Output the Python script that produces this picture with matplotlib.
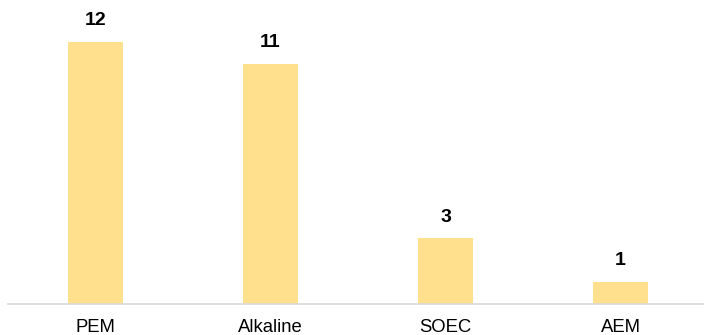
import matplotlib
matplotlib.use("Agg")
import matplotlib.pyplot as plt

categories = ["PEM", "Alkaline", "SOEC", "AEM"]
counts = [12, 11, 3, 1]

plt.rcParams['font.family'] = ['Liberation Sans', 'DejaVu Sans']

fig = plt.figure(figsize=(7.04, 3.35), dpi=100)
# axes runs a little past the right edge, as in the original
ax = fig.add_axes([8 / 704, 31.3 / 335, 700 / 704, 294.7 / 335])

xpos = range(len(categories))
bars = ax.bar(xpos, counts, width=0.314, color="#FFE08C")

for b, v in zip(bars, counts):
    ax.annotate(str(v), (b.get_x() + b.get_width() / 2, b.get_height()),
                xytext=(0, 9), textcoords="offset points",
                ha="center", va="bottom", fontsize=14, fontweight="bold",
                color="black")

ax.set_xlim(-0.5, 3.5)
ax.set_ylim(0, 13.5)
ax.set_xticks(list(xpos))
ax.set_xticklabels(categories, fontsize=13.3)
ax.tick_params(axis="x", length=0, pad=11)
ax.set_yticks([])
for side in ["top", "right", "left"]:
    ax.spines[side].set_visible(False)
ax.spines["bottom"].set_color("#D9D9D9")
ax.spines["bottom"].set_linewidth(1.2)

fig.savefig("out.png", dpi=100)
